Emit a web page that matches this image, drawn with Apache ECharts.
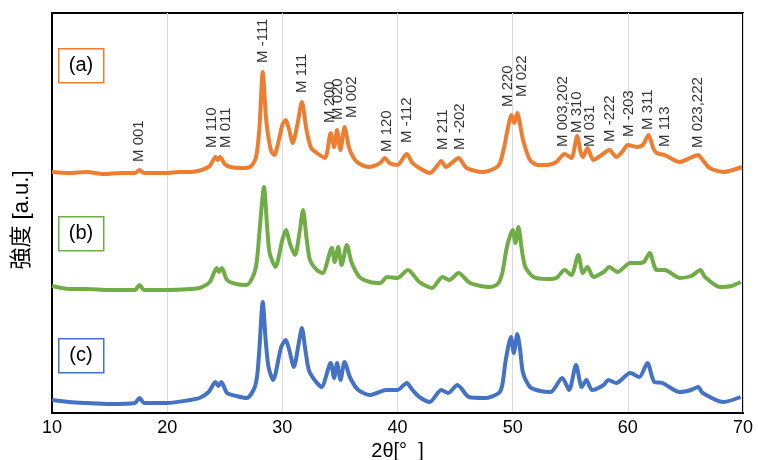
<!DOCTYPE html>
<html>
<head>
<meta charset="utf-8">
<script src="https://cdn.jsdelivr.net/npm/echarts@6/dist/echarts.min.js"></script>
<style>
  html, body { margin: 0; padding: 0; background: #fff; }
  #chart { width: 758px; height: 460px; }
</style>
</head>
<body>
<div id="chart"></div>
<script>
// 2θ positions and intensities (a.u.), one set per sample
const twoThetaA = [10.0, 11.5, 13, 14.5, 16, 17.2, 17.6, 18.0, 19, 20, 21, 22, 23, 23.7, 24.2, 24.4, 24.6, 25.0, 25.5, 26.5, 27.2, 27.7, 28.0, 28.3, 28.6, 29.0, 29.3, 29.7, 30.0, 30.3, 30.6, 30.9, 31.3, 31.7, 32.1, 32.5, 33.0, 33.7, 34.2, 34.5, 34.75, 35.05, 35.4, 35.8, 36.2, 36.6, 37.5, 38.5, 38.9, 39.3, 40.0, 40.8, 41.3, 41.9, 42.8, 43.5, 43.8, 44.2, 44.8, 45.3, 46.0, 47.4, 48.5, 48.9, 49.3, 49.5, 49.9, 50.15, 50.4, 50.7, 50.9, 51.5, 52.2, 53.0, 53.8, 54.5, 55.1, 55.6, 55.9, 56.1, 56.5, 57.0, 57.6, 58.4, 59.0, 59.5, 60.0, 60.8, 61.3, 61.8, 62.2, 62.5, 63.2, 64.5, 65.4, 66.1, 66.5, 67.1, 68.3, 69.9];
const intensityA = [3, 2, 3, 1, 2, 2, 5, 2, 2, 2, 3, 3, 5, 9, 18, 15, 18, 11, 8, 7, 8, 17, 45, 103, 55, 25, 20, 35, 50, 55, 45, 32, 50, 73, 45, 27, 22, 17, 42, 28, 45, 25, 48, 27, 17, 12, 8, 12, 17, 12, 10, 21, 12, 7, 2, 10, 14, 8, 13, 17, 7, 3, 7, 12, 30, 42, 60, 52, 62, 47, 35, 15, 10, 10, 13, 21, 17, 39, 23, 18, 27, 15, 19, 25, 18, 23, 30, 28, 30, 40, 27, 22, 20, 13, 17, 20, 15, 7, 3, 8];

const twoThetaB = [10.0, 11.5, 13, 15, 17.2, 17.6, 18.0, 20, 22.0, 22.8, 23.7, 24.3, 24.5, 24.75, 25.2, 26.0, 26.9, 27.5, 27.8, 28.1, 28.4, 28.7, 28.9, 29.4, 30.0, 30.3, 30.7, 31.1, 31.5, 31.8, 32.1, 32.4, 33.0, 33.5, 34.3, 34.55, 34.85, 35.15, 35.6, 36.0, 36.7, 37.6, 38.5, 39.1, 40.0, 40.9, 41.9, 43.0, 43.9, 44.5, 45.3, 46.3, 48.0, 48.7, 49.1, 49.5, 50.0, 50.25, 50.5, 50.8, 51.1, 51.8, 53.0, 53.8, 54.5, 55.1, 55.7, 56.1, 56.5, 57.0, 57.9, 58.4, 59.1, 60.2, 61.0, 61.4, 61.9, 62.5, 63.2, 64.5, 65.5, 66.3, 66.7, 68.0, 69.0, 69.8];
const intensityB = [6, 3, 3, 2, 2, 7, 2, 2, 3, 4, 10, 24, 20, 24, 12, 8, 7, 17, 32, 72, 105, 62, 39, 25, 52, 62, 47, 37, 60, 82, 54, 32, 22, 19, 44, 30, 45, 27, 47, 30, 15, 10, 9, 15, 14, 22, 10, 4, 15, 12, 19, 9, 5, 8, 19, 45, 62, 49, 65, 42, 25, 15, 13, 14, 22, 17, 37, 19, 25, 15, 20, 25, 20, 29, 29, 30, 39, 22, 22, 14, 16, 22, 15, 5, 6, 10];

const twoThetaC = [10.0, 11.5, 13, 15, 17.2, 17.6, 18.0, 20, 22.0, 22.8, 23.6, 24.2, 24.45, 24.7, 25.2, 26.0, 26.9, 27.5, 27.8, 28.0, 28.3, 28.55, 28.8, 29.2, 29.9, 30.3, 30.6, 31.0, 31.4, 31.7, 32.0, 32.3, 32.8, 33.4, 34.2, 34.5, 34.75, 35.05, 35.4, 35.9, 36.6, 37.6, 38.2, 39.0, 40.0, 40.8, 41.3, 41.9, 42.8, 43.8, 44.4, 45.2, 46.2, 47.6, 48.8, 49.1, 49.4, 49.85, 50.1, 50.4, 50.65, 50.9, 51.5, 52.4, 53.3, 54.3, 54.9, 55.5, 56.0, 56.4, 56.9, 57.9, 58.3, 59.0, 60.2, 61.0, 61.7, 62.3, 63.0, 64.5, 65.5, 66.1, 66.5, 68.3, 69.8];
const intensityC = [5, 3, 2, 1, 2, 7, 2, 2, 5, 7, 13, 23, 19, 23, 12, 9, 7, 15, 28, 55, 103, 65, 38, 25, 58, 65, 55, 38, 60, 77, 55, 35, 25, 18, 42, 27, 42, 25, 43, 27, 15, 10, 12, 15, 15, 22, 15, 8, 3, 15, 12, 20, 8, 7, 12, 20, 45, 68, 52, 71, 55, 32, 18, 14, 13, 27, 15, 40, 18, 25, 15, 20, 25, 22, 32, 28, 42, 23, 22, 13, 15, 18, 12, 3, 8];

const sampleNames = ['(a)', '(b)', '(c)'];
const xTicks = [10, 20, 30, 40, 50, 60, 70];

// peak assignments (above trace a)
const peakNames = ['M 001', 'M 110', 'M 011', 'M -111', 'M 111', 'M 200', 'M 020', 'M 002', 'M 120', 'M -112', 'M 211', 'M -202', 'M 220', 'M 022', 'M 003,202', 'M 310', 'M 031', 'M -222', 'M -203', 'M 311', 'M 113', 'M 023,222'];
const peakTwoTheta = [17.5, 23.9, 25.1, 28.3, 31.7, 34.1, 34.8, 36.0, 39.1, 40.8, 43.9, 45.4, 49.6, 50.8, 54.4, 55.6, 56.7, 58.4, 60.1, 61.7, 63.2, 66.1];

// layout: vertical offsets of the stacked traces and label baselines (axis units)
const offsets = [238, 121, 8];
const peakLabelY = [251, 265, 265, 350, 320, 290, 293, 295, 261, 270, 263, 263, 306, 316, 266, 280, 266, 271, 276, 283, 266, 265];
const colors = ['#ED7D31', '#70AD47', '#4472C4'];
const FONT = "'Liberation Sans', Arial, 'Noto Sans CJK JP', sans-serif";

const traces = [[twoThetaA, intensityA], [twoThetaB, intensityB], [twoThetaC, intensityC]];

const chart = echarts.init(document.getElementById('chart'));

const lineSeries = traces.map((t, k) => ({
  type: 'line',
  name: sampleNames[k],
  data: t[0].map((x, i) => [x, t[1][i] + offsets[k]]),
  showSymbol: false,
  smooth: 0.25,
  lineStyle: { color: colors[k], width: 4 },
  itemStyle: { color: colors[k] },
  z: 3 - k
}));

const labelSeries = {
  type: 'scatter',
  data: peakNames.map((n, i) => ({ name: n, value: [peakTwoTheta[i], peakLabelY[i]] })),
  symbolSize: 0,
  silent: true,
  label: {
    show: true,
    formatter: p => p.name,
    position: [0, 0],
    rotate: 90,
    align: 'left',
    verticalAlign: 'middle',
    color: '#000',
    fontSize: 15,
    fontFamily: FONT
  },
  z: 10
};

// (a) (b) (c) boxes
const boxTops = [48, 216, 338];
const graphics = [];
boxTops.forEach((top, k) => {
  graphics.push({
    type: 'rect',
    left: 58, top: top,
    shape: { width: 45, height: 34 },
    style: { fill: '#fff', stroke: colors[k], lineWidth: 1.5 },
    z: 20
  });
  graphics.push({
    type: 'text',
    x: 81, y: top + 17,
    style: { text: sampleNames[k], fill: '#000', font: '20px ' + FONT, textAlign: 'center', textVerticalAlign: 'middle' },
    z: 21
  });
});

chart.setOption({
  animation: false,
  backgroundColor: '#fff',
  grid: { left: 52, right: 15, top: 13, bottom: 47, outerBoundsMode: 'none', containLabel: false, show: true, borderColor: '#000', borderWidth: 2, backgroundColor: 'transparent' },
  xAxis: {
    type: 'value',
    min: xTicks[0],
    max: xTicks[xTicks.length - 1],
    interval: 10,
    name: '2θ[°  ]',
    nameLocation: 'middle',
    nameGap: 25,
    nameTextStyle: { color: '#000', fontSize: 20, fontFamily: FONT },
    axisLine: { show: true, lineStyle: { color: '#000', width: 2 } },
    axisTick: { show: false },
    axisLabel: { color: '#000', fontSize: 18, fontFamily: FONT, margin: 6 },
    splitLine: { show: true, lineStyle: { color: '#D9D9D9', width: 1 } }
  },
  yAxis: {
    type: 'value',
    min: 0,
    max: 400,
    name: '強度 [a.u.]',
    nameLocation: 'middle',
    nameRotate: 90,
    nameGap: 19,
    nameTextStyle: { color: '#000', fontSize: 22, fontFamily: FONT, padding: [0, 14, 0, 0] },
    axisLine: { show: true, lineStyle: { color: '#000', width: 2 } },
    axisTick: { show: false },
    axisLabel: { show: false },
    splitLine: { show: false }
  },
  graphic: graphics,
  series: lineSeries.concat([labelSeries])
});
</script>
</body>
</html>
